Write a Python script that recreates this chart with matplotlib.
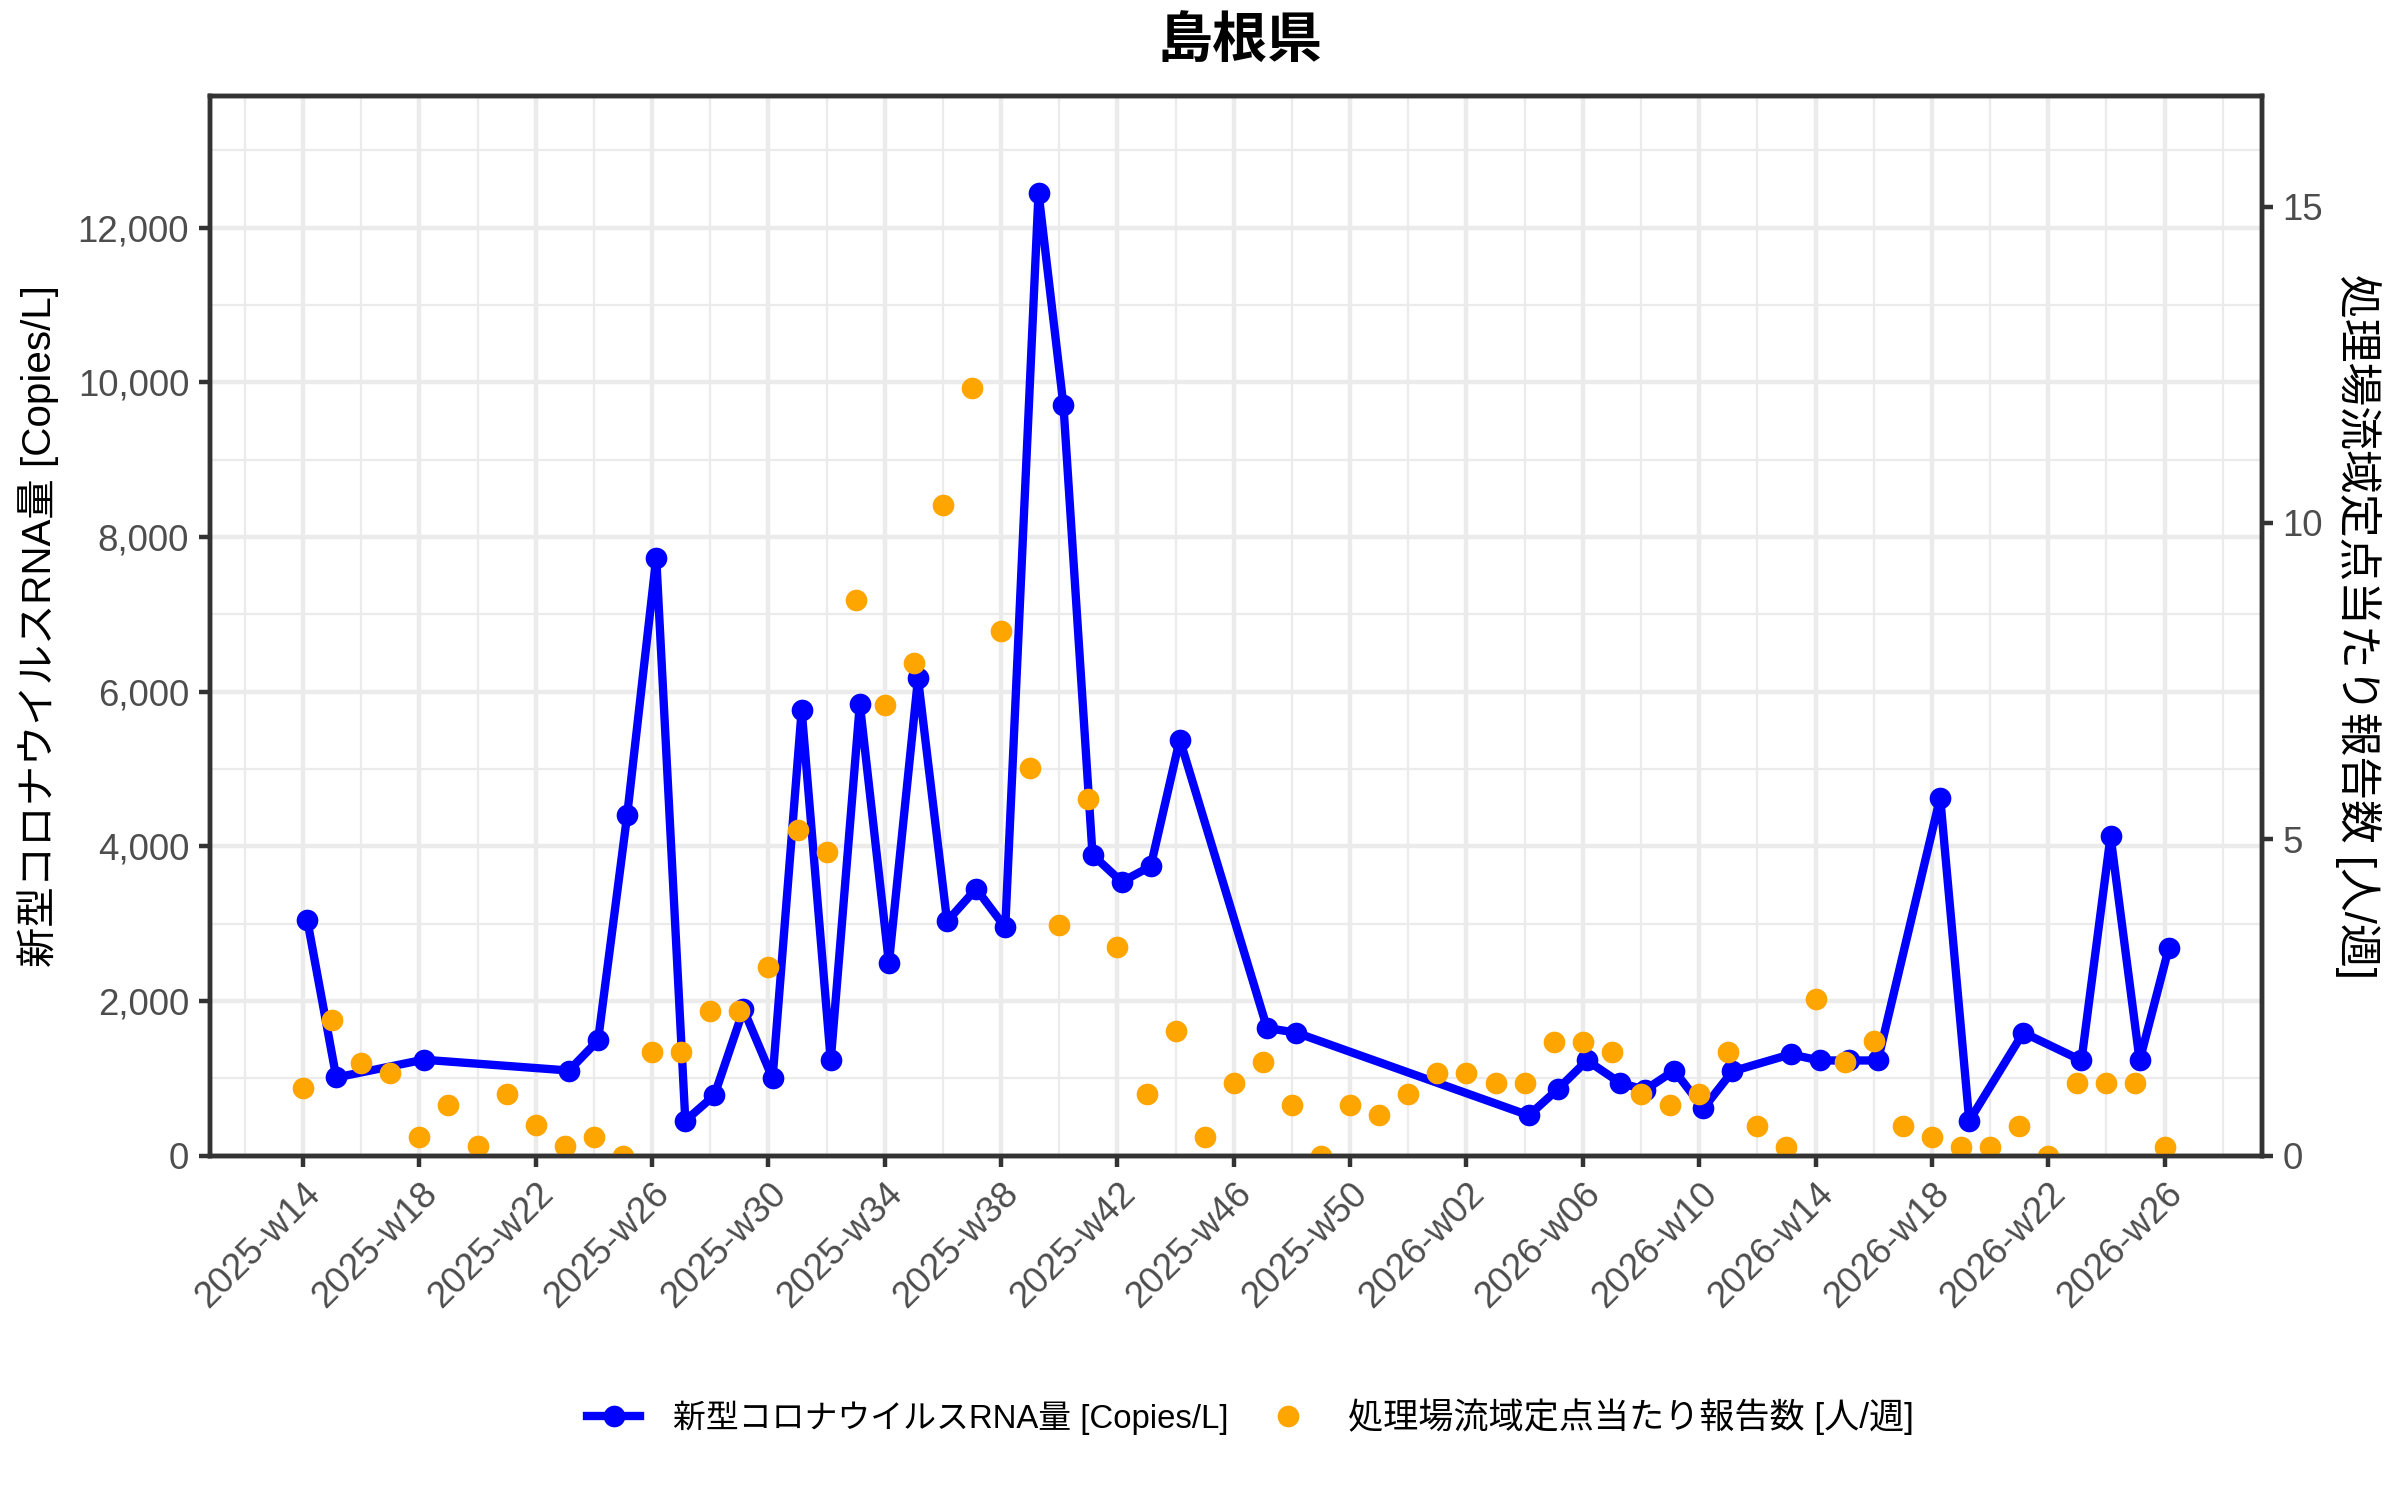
import pandas as pd
import matplotlib
matplotlib.use('Agg')
import matplotlib.pyplot as plt
import matplotlib.dates as mdates
from matplotlib.lines import Line2D
from matplotlib.ticker import MultipleLocator, FuncFormatter

plt.rcParams['font.family'] = ['Liberation Sans', 'Noto Sans CJK JP']

# ---- data ----
title = '島根県'
rna_label = '新型コロナウイルスRNA量 [Copies/L]'
report_label = '処理場流域定点当たり報告数 [人/週]'

# sewage RNA sampling dates and concentrations [Copies/L]
rna_dates = [
    '2025-04-01', '2025-04-08', '2025-04-29', '2025-06-03', '2025-06-10',
    '2025-06-17', '2025-06-24', '2025-07-01', '2025-07-08', '2025-07-15',
    '2025-07-22', '2025-07-29', '2025-08-05', '2025-08-12', '2025-08-19',
    '2025-08-26', '2025-09-02', '2025-09-09', '2025-09-16', '2025-09-24',
    '2025-09-30', '2025-10-07', '2025-10-14', '2025-10-21', '2025-10-28',
    '2025-11-18', '2025-11-25', '2026-01-20', '2026-01-27', '2026-02-03',
    '2026-02-11', '2026-02-17', '2026-02-24', '2026-03-03', '2026-03-10',
    '2026-03-24', '2026-03-31', '2026-04-07', '2026-04-14', '2026-04-29',
    '2026-05-06', '2026-05-19', '2026-06-02', '2026-06-09', '2026-06-16',
    '2026-06-23',
]
rna_values = [
    3050, 1010, 1240, 1100, 1490,
    4400, 7730, 450, 780, 1890,
    1000, 5760, 1230, 5840, 2490,
    6170, 3030, 3450, 2950, 12450,
    9700, 3890, 3540, 3740, 5380,
    1650, 1590, 520, 860, 1230,
    940, 850, 1100, 610, 1090,
    1310, 1230, 1230, 1230, 4630,
    450, 1590, 1230, 4130, 1230,
    2680,
]

# weekly sentinel reports, one per ISO week starting 2025-w14 [人/週]
report_first_week = '2025-03-31'
report_values = [
    1.07, 2.14, 1.47, 1.30, 0.30, 0.80, 0.15, 0.98, 0.48, 0.15,
    0.30, 0.00, 1.63, 1.64, 2.29, 2.29, 2.98, 5.14, 4.80, 8.79,
    7.13, 7.79, 10.29, 12.14, 8.29, 6.13, 3.64, 5.63, 3.29, 0.97,
    1.97, 0.30, 1.14, 1.48, 0.80, 0.00, 0.80, 0.64, 0.97, 1.30,
    1.30, 1.14, 1.14, 1.80, 1.80, 1.64, 0.97, 0.80, 0.97, 1.64,
    0.47, 0.14, 2.48, 1.48, 1.81, 0.47, 0.30, 0.14, 0.14, 0.47,
    0.00, 1.14, 1.14, 1.14, 0.14,
]

# ratio between the left and right axes
coef = 818

BLUE = '#0000FF'
ORANGE = '#FFA500'
DARK = '#333333'
TICKTXT = '#4D4D4D'
GRID = '#EBEBEB'

rna_x = pd.to_datetime(rna_dates)
report_x = pd.date_range(report_first_week, periods=len(report_values), freq='7D')

fig = plt.figure(figsize=(8, 5), dpi=300)
ax = fig.add_axes([0.0874, 0.2296, 0.8551, 0.7061])

ax.plot(rna_x, rna_values, color=BLUE, lw=2.0, marker='o', ms=5.2,
        mec=BLUE, mew=0, zorder=3)

ax2 = ax.twinx()
ax2.plot(report_x, report_values, ls='none', marker='o', ms=5.2,
         color=ORANGE, mec=ORANGE, mew=0)

# x range with 5% padding like ggplot
lo = mdates.date2num(min(rna_x.min(), report_x.min()))
hi = mdates.date2num(max(rna_x.max(), report_x.max()))
pad = 0.05 * (hi - lo)
ax.set_xlim(lo - pad, hi + pad)

major = pd.date_range('2025-03-31', '2026-06-22', freq='28D')
minor = pd.date_range('2025-03-17', '2026-07-06', freq='14D')
ax.xaxis.set_major_locator(matplotlib.ticker.FixedLocator(mdates.date2num(major)))
ax.xaxis.set_minor_locator(matplotlib.ticker.FixedLocator(mdates.date2num(minor)))
ax.xaxis.set_major_formatter(mdates.DateFormatter('%G-w%V'))

ytop = max(rna_values) * 1.1
ax.set_ylim(0, ytop)
ax.yaxis.set_major_locator(MultipleLocator(2000))
ax.yaxis.set_minor_locator(MultipleLocator(1000))
ax.yaxis.set_major_formatter(FuncFormatter(lambda v, p: f'{v:,.0f}'))

ax2.set_ylim(0, ytop / coef)
ax2.yaxis.set_major_locator(MultipleLocator(5))

ax.set_axisbelow(True)
ax.grid(which='major', color=GRID, lw=1.07)
ax.grid(which='minor', color=GRID, lw=0.53)

for a in (ax, ax2):
    for s in a.spines.values():
        s.set_color(DARK)
        s.set_linewidth(1.07)
    a.tick_params(which='major', length=2.75, width=1.07, color=DARK,
                  labelsize=8.8, labelcolor=TICKTXT, pad=2.2)
    a.tick_params(which='minor', length=0)

plt.setp(ax.get_xticklabels(), rotation=45, ha='right', va='top',
         rotation_mode='anchor')

fig.text(0.5165, 0.9713, title, ha='center', va='center',
         fontsize=13.2, fontweight='bold')
fig.text(0.0158, 0.5827, rna_label, rotation=90, ha='center', va='center',
         fontsize=9.7)
fig.text(0.9823, 0.5827, report_label, rotation=-90, ha='center', va='center',
         fontsize=10.5)

handles = [
    Line2D([], [], color=BLUE, lw=2.0, marker='o', ms=5.2, mew=0),
    Line2D([], [], ls='none', marker='o', ms=5.2, color=ORANGE, mew=0),
]
leg = fig.legend(handles, [rna_label, report_label], loc='center',
                 bbox_to_anchor=(0.521, 0.0553), ncol=2, frameon=False,
                 fontsize=8.4, handlelength=1.5, handletextpad=0.95,
                 columnspacing=0.95)
leg.get_texts()[0].set_fontsize(7.9)
leg.get_texts()[1].set_fontsize(8.45)

fig.savefig('out.png', dpi=300)
